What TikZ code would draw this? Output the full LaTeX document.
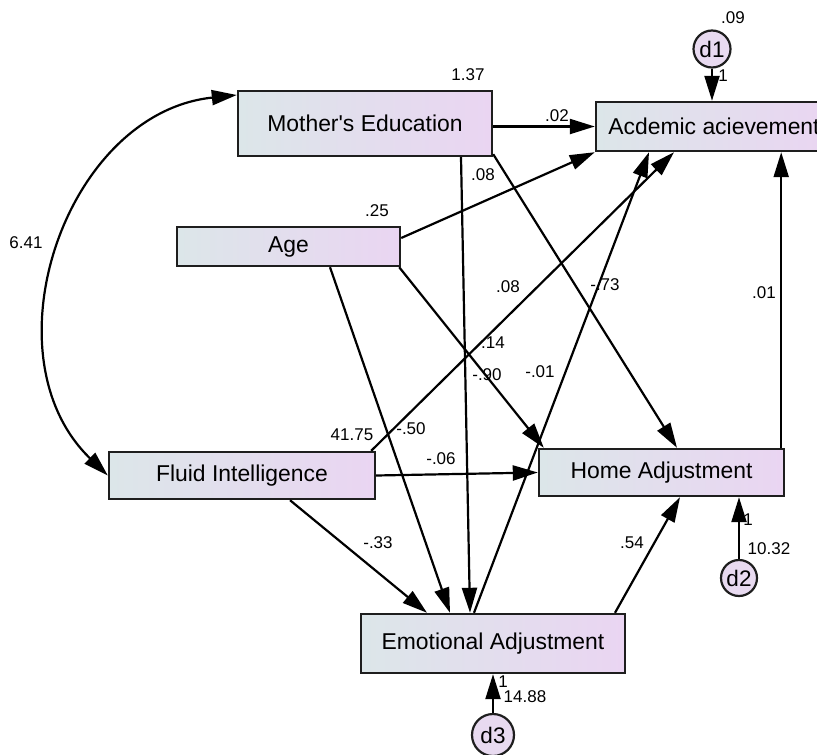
\documentclass[tikz,border=0pt]{standalone}
\usepackage{fontspec}
\setmainfont{Liberation Sans}[Ligatures=TeXOff]
\usetikzlibrary{arrows.meta}
\definecolor{gl}{RGB}{220,230,233}
\definecolor{gr}{RGB}{234,213,242}
\definecolor{bd}{RGB}{30,30,30}
\definecolor{cf}{RGB}{232,218,240}
\begin{document}
\begin{tikzpicture}[x=1pt,y=-1pt,
  var/.style={draw=bd, line width=2.4pt, left color=gl, right color=gr, inner sep=0pt,
    font=\fontsize{22.9}{27}\selectfont},
  err/.style={circle, draw=bd, line width=2.2pt, fill=cf, inner sep=0pt,
    font=\fontsize{22.5}{27}\selectfont},
  lbl/.style={inner sep=0pt, font=\fontsize{17}{20}\selectfont},
  arr/.style={line width=2.2pt, -{Triangle[length=25pt,width=15pt]}},
  cov/.style={line width=2.2pt, {Triangle[length=25pt,width=15pt]}-{Triangle[length=25pt,width=15pt]}}]
\path[use as bounding box, clip] (0,0) rectangle (817,755);

% variables
\node[var, minimum width=254pt, minimum height=65pt] (me) at (365,123.5) {Mother's Education};
\node[var, minimum width=236pt, minimum height=49pt] (ac) at (714,126.5) {Acdemic acievement};
\node[var, minimum width=223pt, minimum height=39pt] (age) at (288.5,246.5) {Age};
\node[var, minimum width=266pt, minimum height=47pt] (fi) at (242,475.5) {Fluid Intelligence};
\node[var, minimum width=245pt, minimum height=47pt] (ha) at (661.5,472.5) {Home Adjustment};
\node[var, minimum width=264pt, minimum height=59pt] (em) at (493,643.5) {Emotional Adjustment};

% error terms
\node[err, minimum size=37pt] (d1) at (712,49) {d1};
\node[err, minimum size=36pt] (d2) at (739,578) {d2};
\node[err, minimum size=42pt] (d3) at (493,735) {d3};

% covariance
\draw[cov] ([yshift=28.5pt]me.west) to[out=186,in=136,looseness=1.1] (fi.west);

% paths
\draw[arr] (me.east |- ac.west) -- (ac.west);
\draw[arr] ([xshift=96pt]me.south) -- ([xshift=-23pt]em.north);
\draw[arr] ([yshift=3pt]me.south east) -- ([xshift=15.5pt]ha.north);
\draw[arr] ([yshift=8.5pt]age.east) -- (ac.south west);
\draw[arr] ([xshift=-2pt]age.south east) -- ([xshift=6pt]ha.north west);
\draw[arr] ([xshift=41.5pt]age.south) -- ([xshift=-43pt]em.north);
\draw[arr] ([xshift=-5pt]fi.north east) -- ([xshift=-40pt]ac.south);
\draw[arr] (fi.east) -- (ha.west);
\draw[arr] ([xshift=48pt]fi.south) -- ([xshift=-66pt]em.north);
\draw[arr] ([xshift=122pt]em.north) -- ([xshift=18.5pt]ha.south);
\draw[arr] ([xshift=-4pt]ha.north east) -- ([xshift=-4pt]ha.north east |- ac.south);
\draw[arr] ([xshift=-19pt]em.north) -- ([xshift=-65pt]ac.south);
\draw[arr] (d1.south) -- (d1.south |- ac.north);
\draw[arr] (d2.north) -- (d2.north |- ha.south);
\draw[arr] (d3.north) -- (d3.north |- em.south);

% labels
\node[lbl] (l137) at (468,75) {1.37};
\node[lbl] (l02) at (557,116) {.02};
\node[lbl] (l08a) at (483,175) {.08};
\node[lbl] (l641) at (26,243) {6.41};
\node[lbl] (l25) at (377,211) {.25};
\node[lbl] (l08b) at (508,287) {.08};
\node[lbl] (l73) at (605,285) {-.73};
\node[lbl] (l01a) at (764,293) {.01};
\node[lbl] (l14) at (493,343) {.14};
\node[lbl] (l90) at (487,375) {-.90};
\node[lbl] (l01b) at (540,372) {-.01};
\node[lbl] (l50) at (411,429) {-.50};
\node[lbl] (l4175) at (352,435) {41.75};
\node[lbl] (l06) at (441,459) {-.06};
\node[lbl] (l33) at (378,543) {-.33};
\node[lbl] (l54) at (632,543) {.54};
\node[lbl] (l09) at (733,18) {.09};
\node[lbl] (l1a) at (723,76) {1};
\node[lbl] (l1b) at (748,520) {1};
\node[lbl] (l1032) at (769,549) {10.32};
\node[lbl] (l1c) at (503,682) {1};
\node[lbl] (l1488) at (525,697) {14.88};
\end{tikzpicture}
\end{document}
